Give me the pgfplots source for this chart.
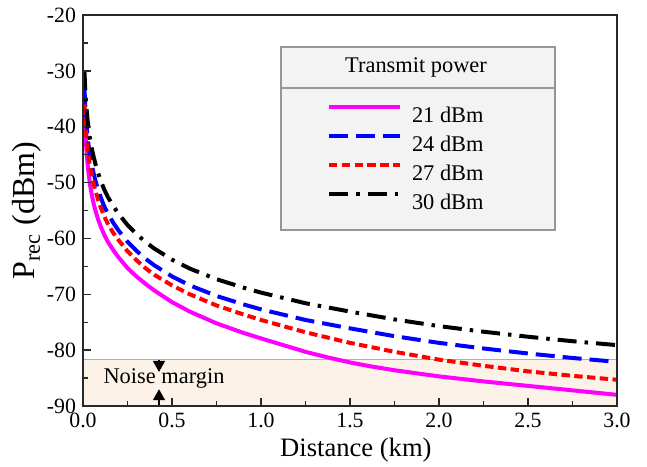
\documentclass[border=0pt]{standalone}
\usepackage{fontspec}
\setmainfont{Liberation Serif}
\usepackage{pgfplots}
\pgfplotsset{compat=1.18}
\usetikzlibrary{arrows.meta}

\definecolor{noisefill}{RGB}{252,242,232}
\definecolor{noiseline}{RGB}{140,200,140}
\definecolor{legfill}{RGB}{243,243,243}
\definecolor{legdraw}{RGB}{150,150,150}
\definecolor{axisgray}{RGB}{40,40,40}
\definecolor{cMag}{RGB}{255,0,255}
\definecolor{cBlue}{RGB}{0,0,255}
\definecolor{cRed}{RGB}{255,0,0}

\begin{document}
\begin{tikzpicture}
\useasboundingbox (-41.5pt,-30pt) rectangle (282pt,203pt);
\begin{axis}[
  at={(0,0)}, anchor=south west,
  width=267pt, height=195.5pt, scale only axis,
  xmin=0, xmax=3, ymin=-90, ymax=-20,
  xtick={0,0.5,1,1.5,2,2.5,3}, ytick={-90,-80,-70,-60,-50,-40,-30,-20},
  minor x tick num=1, minor y tick num=1,
  tick align=inside, tick pos=left,
  major tick length=4pt, minor tick length=2.5pt,
  every tick/.style={axisgray, line width=0.7pt},
  axis line style={axisgray, line width=0.8pt},
  axis on top,
  /pgf/number format/assume math mode=true,
  xticklabel style={/pgf/number format/.cd, fixed, fixed zerofill, precision=1},
  tick label style={font=\fontsize{10.9}{12}\selectfont},
  xlabel={Distance (km)},
  ylabel={P\textsubscript{rec} (dBm)},
  xlabel style={at={(axis description cs:0.511,0)}, anchor=center, yshift=-22pt, font=\fontsize{13.3}{15}\selectfont},
  ylabel style={at={(axis description cs:-0.105,0.5)}, anchor=center, font=\fontsize{16}{18}\selectfont},
  legend style={at={(axis cs:1.371,-36.2)}, anchor=north west, draw=none, fill=none,
    inner sep=0pt, outer sep=0pt, row sep=6pt,
    font=\fontsize{11.2}{13}\selectfont,
    nodes={inner sep=0pt, text height=7.5pt, text depth=0pt}},
  legend cell align=left,
  legend image code/.code={\draw[#1] (0pt,3.75pt) -- (35.5pt,3.75pt); \path (0pt,0pt) (40.5pt,0pt);},
]

% noise margin band and threshold
\addplot[draw=none, fill=noisefill, forget plot] coordinates {(0,-90) (0,-81.7) (3,-81.7) (3,-90)} -- cycle;
\addplot[noiseline, line width=0.6pt, forget plot] coordinates {(0,-81.7) (3,-81.7)};

% legend frame with title row
\draw[legdraw, fill=legfill, line width=0.65pt] (axis cs:1.112,-25.73) rectangle (axis cs:2.652,-58.49);
\draw[legdraw, line width=0.65pt] (axis cs:1.112,-33.07) -- (axis cs:2.652,-33.07);
\node[font=\fontsize{11.2}{13}\selectfont] at (axis cs:1.871,-29.4) {Transmit power};

% 21 dBm
\addplot[cMag, line width=2pt] coordinates {
(0.008,-36.5) (0.010,-38.2) (0.013,-40.5) (0.016,-42.4) (0.020,-44.4) (0.025,-46.4)
(0.030,-48.0) (0.040,-50.5) (0.050,-52.3) (0.060,-53.8) (0.070,-55.0) (0.085,-56.6)
(0.100,-57.9) (0.120,-59.4) (0.140,-60.6) (0.170,-62.1) (0.200,-63.4) (0.250,-65.3)
(0.300,-66.8) (0.350,-68.1) (0.400,-69.3) (0.500,-71.4) (0.600,-73.1) (0.750,-75.2)
(0.900,-76.9) (1.000,-77.9) (1.125,-79.1) (1.250,-80.3) (1.375,-81.3) (1.500,-82.2)
(1.625,-82.95) (1.750,-83.6) (1.875,-84.15) (2.000,-84.7) (2.250,-85.6) (2.500,-86.4)
(2.750,-87.2) (3.000,-88.0)};
\addlegendentry{21 dBm}

% 24 dBm
\addplot[cBlue, line width=2pt, dash pattern=on 9.5pt off 4pt] coordinates {
(0.008,-33.0) (0.010,-34.4) (0.013,-36.4) (0.016,-38.0) (0.020,-39.8) (0.025,-41.6)
(0.030,-43.0) (0.040,-45.3) (0.050,-47.0) (0.060,-48.4) (0.070,-49.7) (0.085,-51.3)
(0.100,-52.7) (0.120,-54.3) (0.140,-55.6) (0.170,-57.2) (0.200,-58.6) (0.250,-60.6)
(0.300,-62.2) (0.350,-63.6) (0.400,-64.8) (0.500,-66.8) (0.600,-68.4) (0.750,-70.3)
(0.900,-71.8) (1.000,-72.7) (1.250,-74.6) (1.500,-76.1) (1.750,-77.5) (2.000,-78.7)
(2.250,-79.7) (2.500,-80.6) (2.750,-81.4) (3.000,-82.1)};
\addlegendentry{24 dBm}

% 27 dBm
\addplot[cRed, line width=2pt, dash pattern=on 4.2pt off 2.2pt] coordinates {
(0.008,-36.0) (0.010,-37.2) (0.013,-39.0) (0.016,-40.5) (0.020,-42.1) (0.025,-43.8)
(0.030,-45.1) (0.040,-47.3) (0.050,-48.9) (0.060,-50.3) (0.070,-51.5) (0.085,-53.1)
(0.100,-54.5) (0.120,-56.1) (0.140,-57.4) (0.170,-59.0) (0.200,-60.3) (0.250,-62.3)
(0.300,-63.9) (0.350,-65.3) (0.400,-66.5) (0.500,-68.4) (0.600,-70.0) (0.750,-72.0)
(0.900,-73.6) (1.000,-74.6) (1.250,-76.8) (1.500,-78.7) (1.750,-80.3) (2.000,-81.7)
(2.250,-82.8) (2.500,-83.8) (2.750,-84.6) (3.000,-85.3)};
\addlegendentry{27 dBm}

% 30 dBm
\addplot[black, line width=2pt, dash pattern=on 9.5pt off 4pt on 1.75pt off 4pt] coordinates {
(0.008,-30.0) (0.010,-31.4) (0.013,-33.4) (0.016,-35.0) (0.020,-36.8) (0.025,-38.6)
(0.030,-40.0) (0.040,-42.3) (0.050,-44.0) (0.060,-45.4) (0.070,-46.7) (0.085,-48.3)
(0.100,-49.7) (0.120,-51.3) (0.140,-52.6) (0.170,-54.2) (0.200,-55.6) (0.250,-57.6)
(0.300,-59.2) (0.350,-60.6) (0.400,-61.8) (0.500,-63.8) (0.600,-65.4) (0.750,-67.3)
(0.900,-68.8) (1.000,-69.7) (1.250,-71.6) (1.500,-73.1) (1.750,-74.5) (2.000,-75.7)
(2.250,-76.7) (2.500,-77.6) (2.750,-78.4) (3.000,-79.1)};
\addlegendentry{30 dBm}

% noise margin annotation
\node[font=\fontsize{11.2}{13}\selectfont] at (axis cs:0.455,-85.0) {Noise margin};
\draw[-{Triangle[length=5.5pt,width=6pt]}, line width=0.8pt] (axis cs:0.427,-81.7) -- (axis cs:0.427,-83.9);
\draw[-{Triangle[length=5.5pt,width=6pt]}, line width=0.8pt] (axis cs:0.427,-90) -- (axis cs:0.427,-87.0);
\end{axis}
\end{tikzpicture}
\end{document}
